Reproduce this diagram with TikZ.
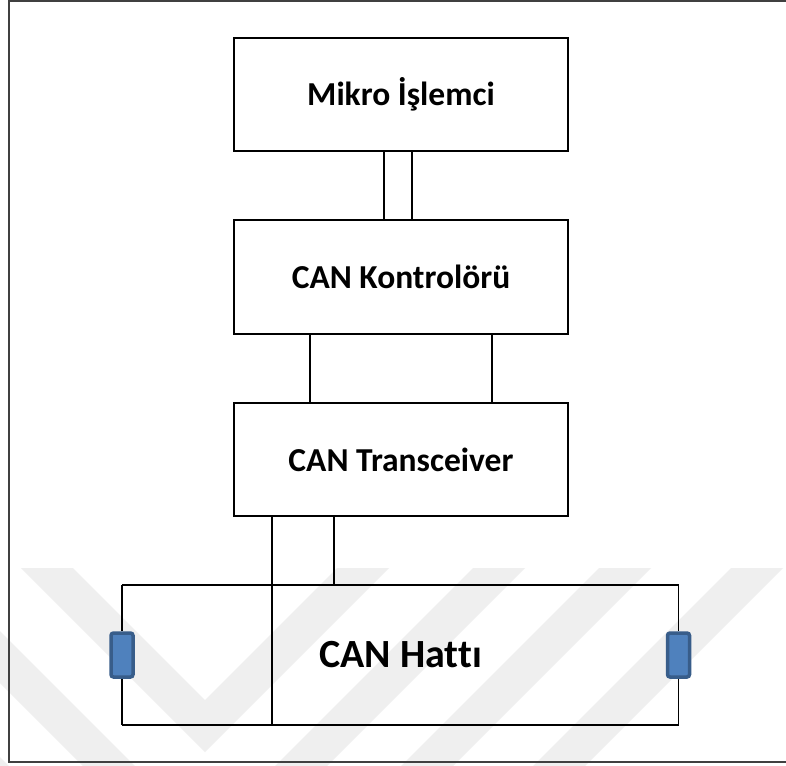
\documentclass[tikz,border=0pt]{standalone}
\usepackage{fontspec}
\setmainfont{Carlito}[Ligatures=NoCommon]
\usetikzlibrary{calc}
\definecolor{resfill}{HTML}{4F81BD}
\definecolor{resedge}{HTML}{385D8A}
\definecolor{wmark}{HTML}{EFEFEF}
\tikzset{
  blockbox/.style={draw=black, line width=2pt, fill=white, minimum width=334pt,
    minimum height=113pt, inner sep=0pt, font=\fontsize{33.5}{38}\selectfont\bfseries},
  wire/.style={draw=black, line width=1.4pt},
  busline/.style={draw=black, line width=2pt},
  resistor/.style={draw=resedge, fill=resfill, line width=3.5pt, rounded corners=2.5pt,
    minimum width=22pt, minimum height=44pt, inner sep=0pt},
  frameline/.style={draw=black!75, line width=2pt},
  band/.style={fill=wmark, draw=none}
}
\begin{document}
\begin{tikzpicture}[x=1pt, y=-1pt]
\useasboundingbox (0,0) rectangle (786,765);
\fill[white] (0,0) rectangle (786,765);

% faint chevron watermark in the lower band
\begin{scope}
  \clip (0,568) rectangle (786,765);
  \foreach \a in {700,836,962,1094}{
    \fill[band] (205-\a+568-52,568) -- (205,\a+52) -- (205+\a-568+52,568)
      -- (205+\a-568,568) -- (205,\a) -- (205-\a+568,568) -- cycle;
  }
\end{scope}

% outer frame
\draw[frameline] (9,1) rectangle (795,762);

% stacked blocks
\node[blockbox] (mcu) at (401,94.5) {Mikro İşlemci};
\node[blockbox, minimum height=114pt] (ctl) at (401,277) {CAN Kontrolörü};
\node[blockbox] (trx) at (401,459.5) {CAN Transceiver};

% bus area and its label
\node[minimum width=557pt, minimum height=140pt, inner sep=0pt, outer sep=0pt,
      font=\fontsize{40}{46}\selectfont\bfseries] (bus) at (400.5,655) {CAN Hattı};

% termination resistors
\node[resistor] (rl) at (122,655) {};
\node[resistor] (rr) at (678.5,655) {};

% tap points on the block edges
\coordinate (m1) at ([xshift=151pt]mcu.south west);
\coordinate (m2) at ([xshift=179pt]mcu.south west);
\coordinate (c1) at ([xshift=77pt]ctl.south west);
\coordinate (c2) at ([xshift=259pt]ctl.south west);
\coordinate (t1) at ([xshift=39pt]trx.south west);
\coordinate (t2) at ([xshift=101pt]trx.south west);

% links between the blocks
\draw[wire] (m1) -- (m1 |- ctl.north);
\draw[wire] (m2) -- (m2 |- ctl.north);
\draw[wire] (c1) -- (c1 |- trx.north);
\draw[wire] (c2) -- (c2 |- trx.north);

% transceiver to the bus lines
\draw[wire] (t1) -- (t1 |- bus.south);
\draw[wire] (t2) -- (t2 |- bus.north);

% bus loop
\draw[busline] (bus.north west) -- (bus.north east);
\draw[busline] (bus.south west) -- (bus.south east);
\draw[wire] (bus.north west) -- (rl.north);
\draw[wire] (rl.south) -- (bus.south west);
\draw[wire] (bus.north east -| rr.north) -- (rr.north);
\draw[wire] (rr.south) -- (bus.south east -| rr.south);
\end{tikzpicture}
\end{document}
